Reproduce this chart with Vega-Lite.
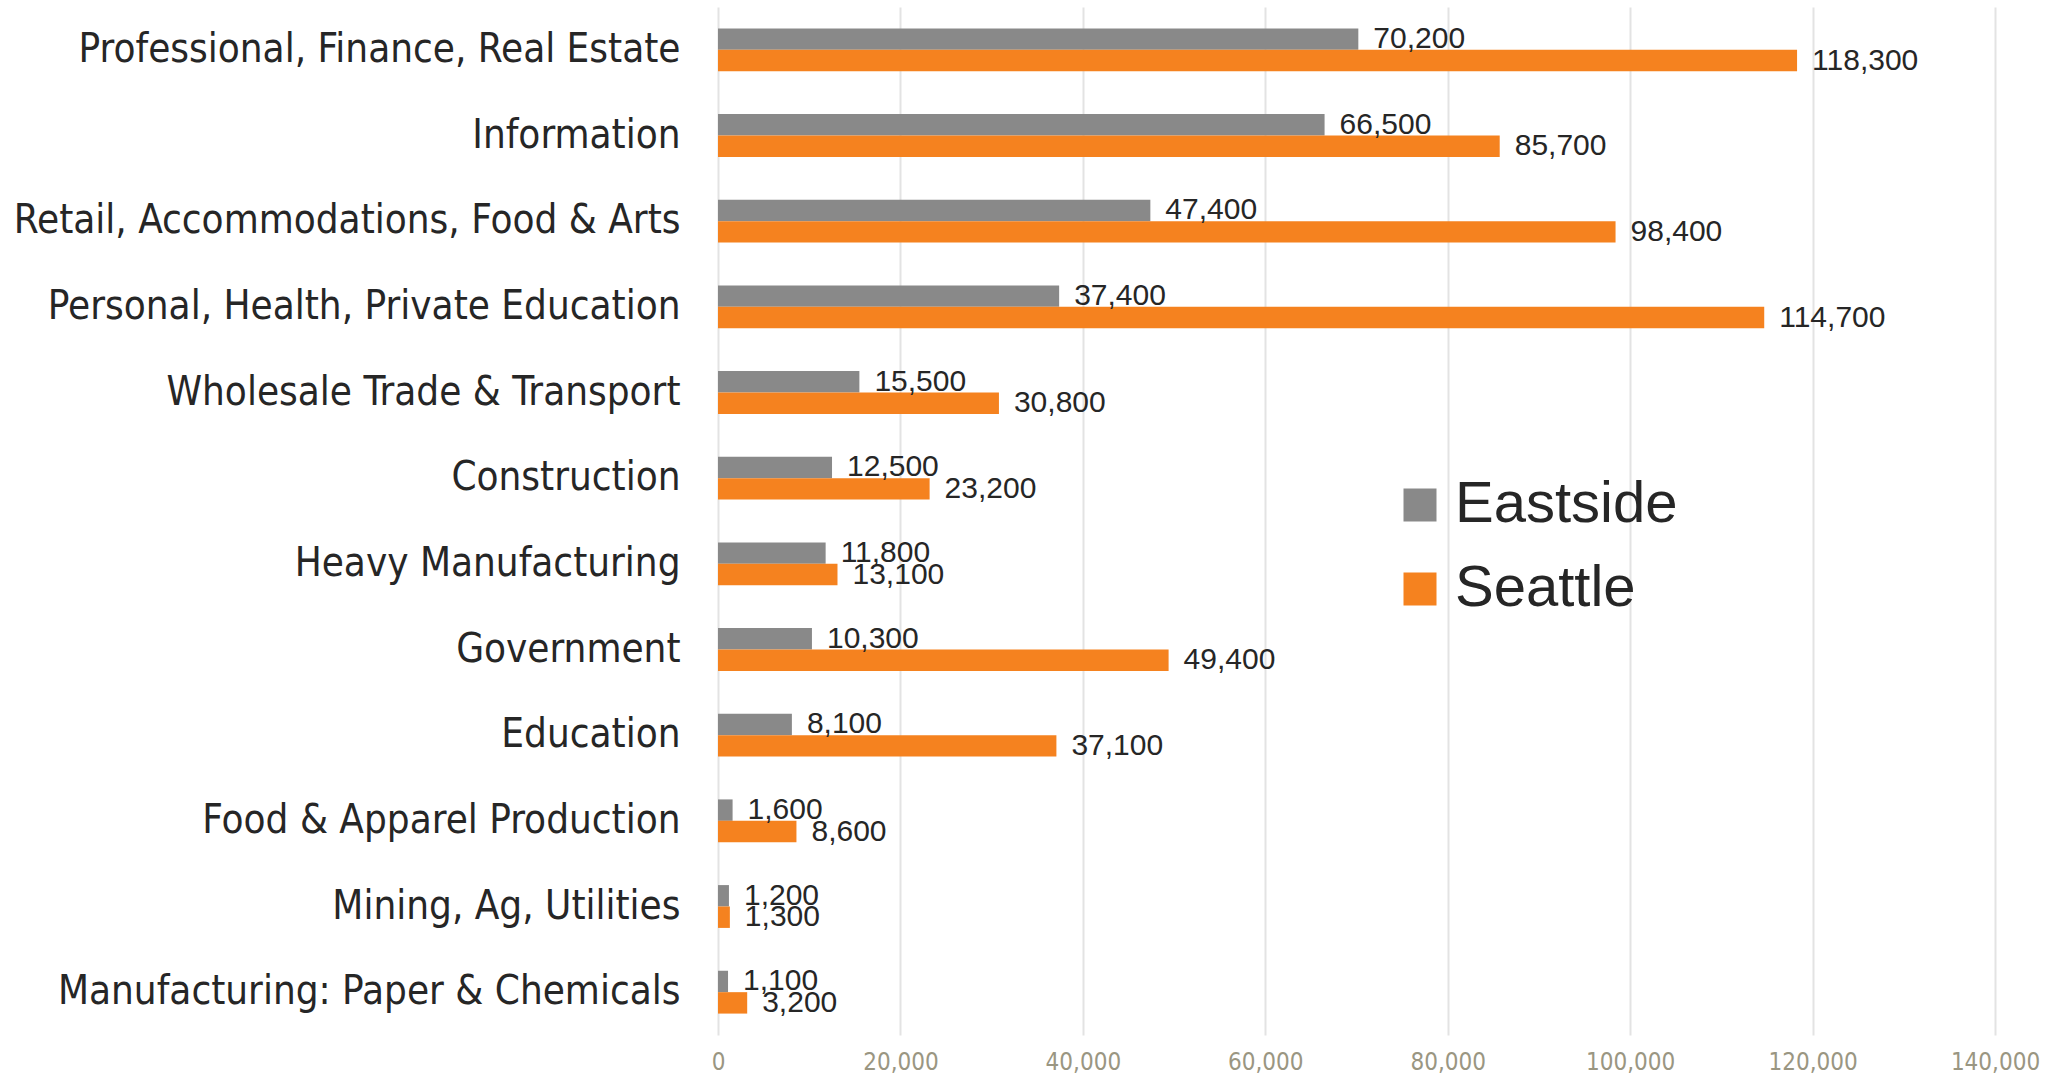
{
  "$schema": "https://vega.github.io/schema/vega-lite/v6.json",
  "width": 1277,
  "height": 1028,
  "autosize": {"type": "none"},
  "padding": {"left": 718, "top": 7, "right": 60, "bottom": 41},
  "background": "white",
  "config": {"view": {"stroke": null}},
  "data": {"values": [
    {"sector": "Professional, Finance, Real Estate", "region": "Eastside", "jobs": 70200},
    {"sector": "Professional, Finance, Real Estate", "region": "Seattle", "jobs": 118300},
    {"sector": "Information", "region": "Eastside", "jobs": 66500},
    {"sector": "Information", "region": "Seattle", "jobs": 85700},
    {"sector": "Retail, Accommodations, Food & Arts", "region": "Eastside", "jobs": 47400},
    {"sector": "Retail, Accommodations, Food & Arts", "region": "Seattle", "jobs": 98400},
    {"sector": "Personal, Health, Private Education", "region": "Eastside", "jobs": 37400},
    {"sector": "Personal, Health, Private Education", "region": "Seattle", "jobs": 114700},
    {"sector": "Wholesale Trade & Transport", "region": "Eastside", "jobs": 15500},
    {"sector": "Wholesale Trade & Transport", "region": "Seattle", "jobs": 30800},
    {"sector": "Construction", "region": "Eastside", "jobs": 12500},
    {"sector": "Construction", "region": "Seattle", "jobs": 23200},
    {"sector": "Heavy Manufacturing", "region": "Eastside", "jobs": 11800},
    {"sector": "Heavy Manufacturing", "region": "Seattle", "jobs": 13100},
    {"sector": "Government", "region": "Eastside", "jobs": 10300},
    {"sector": "Government", "region": "Seattle", "jobs": 49400},
    {"sector": "Education", "region": "Eastside", "jobs": 8100},
    {"sector": "Education", "region": "Seattle", "jobs": 37100},
    {"sector": "Food & Apparel Production", "region": "Eastside", "jobs": 1600},
    {"sector": "Food & Apparel Production", "region": "Seattle", "jobs": 8600},
    {"sector": "Mining, Ag, Utilities", "region": "Eastside", "jobs": 1200},
    {"sector": "Mining, Ag, Utilities", "region": "Seattle", "jobs": 1300},
    {"sector": "Manufacturing: Paper & Chemicals", "region": "Eastside", "jobs": 1100},
    {"sector": "Manufacturing: Paper & Chemicals", "region": "Seattle", "jobs": 3200}
  ]},
  "encoding": {
    "y": {
      "field": "sector", "type": "nominal", "sort": null,
      "scale": {"paddingInner": 0.5, "paddingOuter": 0.25},
      "axis": {"title": null, "domain": false, "ticks": false, "labelPadding": 38,
        "labelFont": "Liberation Sans Narrow, DejaVu Sans Condensed, sans-serif",
        "labelFontSize": 40, "labelColor": "#262626", "labelLimit": 800}
    },
    "yOffset": {"field": "region", "type": "nominal", "sort": ["Eastside", "Seattle"], "scale": {"paddingInner": 0}},
    "x": {
      "field": "jobs", "type": "quantitative",
      "scale": {"domain": [0, 140000], "nice": false},
      "axis": {"title": null, "values": [0, 20000, 40000, 60000, 80000, 100000, 120000, 140000],
        "labelExpr": "format(datum.value, ',')", "labelFlush": false, "labelOverlap": false,
        "domain": false, "ticks": false, "grid": true, "gridColor": "#e3e3e3", "gridWidth": 2,
        "labelFont": "Liberation Sans Narrow, DejaVu Sans Condensed, sans-serif",
        "labelFontSize": 24, "labelColor": "#9a9682", "labelPadding": 15}
    }
  },
  "layer": [
    {
      "mark": {"type": "bar"},
      "encoding": {
        "color": {
          "field": "region", "type": "nominal",
          "scale": {"domain": ["Eastside", "Seattle"], "range": ["#898989", "#f5821f"]},
          "legend": {
            "title": null, "orient": "none", "legendX": 673, "legendY": 469,
            "symbolType": "square", "symbolSize": 1089, "symbolStrokeWidth": 0,
            "labelFont": "Liberation Sans, sans-serif", "labelFontSize": 58, "labelColor": "#262626",
            "labelOffset": 6, "rowPadding": 26, "labelLimit": 600
          }
        }
      }
    },
    {
      "mark": {"type": "text", "align": "left", "baseline": "middle", "dx": 15,
        "font": "Liberation Sans, sans-serif", "fontSize": 30, "color": "#262626"},
      "encoding": {
        "text": {"field": "jobs", "type": "quantitative", "format": ","}
      }
    }
  ]
}
